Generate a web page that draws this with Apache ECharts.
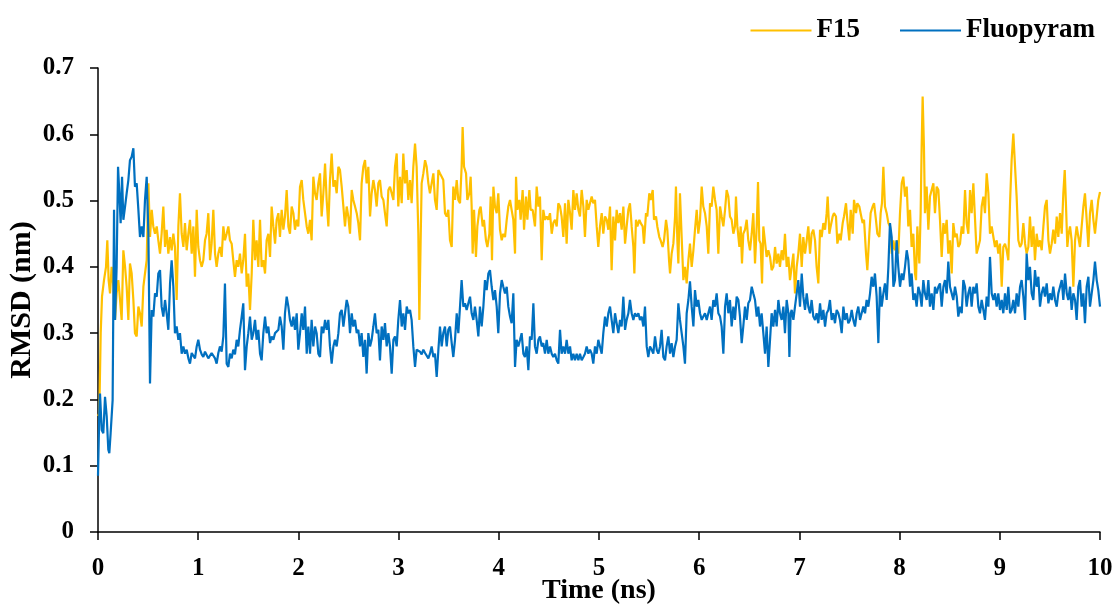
<!DOCTYPE html>
<html>
<head>
<meta charset="utf-8">
<script src="https://cdn.jsdelivr.net/npm/echarts@6/dist/echarts.min.js"></script>
<style>html,body{margin:0;padding:0;background:#fff}#chart{width:1116px;height:604px}</style>
</head>
<body>
<div id="chart"></div>
<script>
const seriesNames = ['F15', 'Fluopyram'];
const xTicks = { min: 0, max: 10, interval: 1 };
const yTicks = { min: 0, max: 0.7, interval: 0.1 };

const f15 = [[0,0.175],[0.013,0.179],[0.027,0.300],[0.040,0.355],[0.060,0.380],[0.080,0.400],[0.093,0.440],[0.106,0.380],[0.120,0.360],[0.136,0.400],[0.153,0.370],[0.170,0.320],[0.186,0.360],[0.203,0.380],[0.220,0.350],[0.236,0.320],[0.253,0.425],[0.270,0.400],[0.286,0.370],[0.303,0.320],[0.319,0.405],[0.336,0.390],[0.353,0.350],[0.369,0.300],[0.386,0.295],[0.403,0.340],[0.419,0.330],[0.436,0.310],[0.453,0.370],[0.469,0.390],[0.486,0.410],[0.503,0.526],[0.519,0.445],[0.536,0.486],[0.552,0.461],[0.569,0.450],[0.586,0.461],[0.602,0.440],[0.619,0.420],[0.635,0.450],[0.652,0.491],[0.669,0.430],[0.685,0.456],[0.702,0.420],[0.719,0.445],[0.735,0.425],[0.752,0.450],[0.768,0.430],[0.785,0.350],[0.802,0.461],[0.818,0.511],[0.835,0.450],[0.852,0.430],[0.868,0.466],[0.885,0.425],[0.902,0.450],[0.918,0.471],[0.935,0.420],[0.952,0.461],[0.968,0.385],[0.985,0.486],[1.001,0.430],[1.018,0.410],[1.035,0.400],[1.051,0.410],[1.068,0.440],[1.084,0.450],[1.101,0.481],[1.118,0.410],[1.134,0.435],[1.151,0.486],[1.168,0.420],[1.184,0.400],[1.201,0.420],[1.217,0.430],[1.234,0.415],[1.251,0.461],[1.267,0.440],[1.284,0.450],[1.301,0.461],[1.317,0.440],[1.334,0.435],[1.350,0.410],[1.367,0.385],[1.384,0.410],[1.400,0.400],[1.417,0.420],[1.434,0.390],[1.450,0.410],[1.467,0.450],[1.484,0.370],[1.500,0.390],[1.517,0.335],[1.534,0.390],[1.550,0.471],[1.567,0.410],[1.583,0.440],[1.600,0.400],
[1.617,0.471],[1.633,0.400],[1.650,0.410],[1.667,0.390],[1.683,0.440],[1.700,0.450],[1.717,0.415],[1.733,0.491],[1.750,0.461],[1.767,0.435],[1.783,0.471],[1.800,0.481],[1.816,0.445],[1.833,0.486],[1.850,0.456],[1.866,0.476],[1.883,0.516],[1.900,0.461],[1.916,0.450],[1.933,0.491],[1.950,0.481],[1.966,0.456],[1.983,0.471],[1.999,0.461],[2.016,0.521],[2.033,0.531],[2.049,0.501],[2.066,0.481],[2.083,0.461],[2.099,0.450],[2.116,0.471],[2.132,0.440],[2.149,0.536],[2.166,0.511],[2.182,0.501],[2.199,0.526],[2.216,0.541],[2.232,0.476],[2.249,0.511],[2.266,0.556],[2.282,0.501],[2.299,0.461],[2.315,0.531],[2.332,0.571],[2.349,0.521],[2.365,0.531],[2.382,0.511],[2.399,0.551],[2.415,0.546],[2.432,0.521],[2.449,0.491],[2.465,0.461],[2.482,0.491],[2.498,0.476],[2.515,0.450],[2.532,0.516],[2.548,0.501],[2.565,0.491],[2.582,0.481],[2.598,0.466],[2.615,0.440],[2.631,0.526],[2.648,0.551],[2.665,0.561],[2.681,0.526],[2.698,0.551],[2.715,0.476],[2.731,0.511],[2.748,0.531],[2.764,0.516],[2.781,0.491],[2.798,0.526],[2.814,0.531],[2.831,0.506],[2.848,0.501],[2.864,0.481],[2.881,0.461],[2.898,0.516],[2.914,0.521],[2.931,0.511],[2.948,0.501],[2.964,0.551],[2.981,0.571],[2.997,0.491],[3.014,0.536],[3.031,0.496],[3.047,0.571],[3.064,0.526],[3.081,0.546],[3.097,0.501],[3.114,0.531],[3.130,0.496],[3.147,0.551],[3.164,0.586],[3.180,0.551],[3.197,0.450],[3.207,0.320],[3.220,0.440],[3.230,0.526],[3.247,0.541],[3.264,0.561],[3.280,0.551],[3.297,0.526],
[3.313,0.511],[3.330,0.526],[3.347,0.541],[3.363,0.501],[3.380,0.486],[3.397,0.546],[3.413,0.541],[3.430,0.536],[3.446,0.531],[3.463,0.481],[3.480,0.476],[3.496,0.486],[3.513,0.440],[3.530,0.430],[3.546,0.521],[3.563,0.501],[3.580,0.531],[3.596,0.501],[3.613,0.496],[3.629,0.551],[3.639,0.611],[3.653,0.551],[3.673,0.541],[3.686,0.501],[3.706,0.511],[3.719,0.536],[3.729,0.491],[3.739,0.420],[3.753,0.486],[3.772,0.415],[3.786,0.461],[3.806,0.486],[3.819,0.491],[3.839,0.461],[3.852,0.471],[3.872,0.440],[3.886,0.430],[3.906,0.450],[3.919,0.506],[3.932,0.410],[3.946,0.521],[3.962,0.491],[3.979,0.481],[3.995,0.511],[4.012,0.456],[4.029,0.440],[4.045,0.450],[4.062,0.445],[4.079,0.471],[4.095,0.491],[4.112,0.501],[4.128,0.486],[4.145,0.471],[4.162,0.420],[4.172,0.536],[4.185,0.486],[4.205,0.501],[4.218,0.471],[4.238,0.516],[4.252,0.456],[4.271,0.506],[4.285,0.471],[4.305,0.516],[4.318,0.486],[4.338,0.486],[4.361,0.461],[4.378,0.521],[4.395,0.491],[4.411,0.506],[4.428,0.410],[4.444,0.486],[4.461,0.471],[4.478,0.476],[4.494,0.471],[4.511,0.481],[4.528,0.450],[4.544,0.466],[4.561,0.471],[4.578,0.461],[4.594,0.496],[4.611,0.491],[4.627,0.476],[4.644,0.445],[4.661,0.496],[4.677,0.435],[4.694,0.501],[4.711,0.481],[4.727,0.456],[4.744,0.516],[4.760,0.486],[4.777,0.511],[4.794,0.486],[4.810,0.476],[4.827,0.516],[4.844,0.491],[4.860,0.445],[4.877,0.501],[4.894,0.486],[4.910,0.496],[4.927,0.506],[4.943,0.496],[4.960,0.501],[4.977,0.461],[4.993,0.430],
[5.010,0.461],[5.027,0.481],[5.043,0.450],[5.060,0.476],[5.077,0.471],[5.093,0.456],[5.110,0.491],[5.126,0.395],[5.143,0.476],[5.160,0.440],[5.176,0.486],[5.193,0.466],[5.210,0.481],[5.226,0.456],[5.243,0.491],[5.260,0.435],[5.276,0.461],[5.293,0.486],[5.309,0.496],[5.326,0.461],[5.343,0.430],[5.353,0.390],[5.369,0.471],[5.383,0.461],[5.403,0.471],[5.416,0.466],[5.436,0.461],[5.449,0.435],[5.469,0.481],[5.482,0.476],[5.502,0.511],[5.516,0.501],[5.536,0.516],[5.549,0.471],[5.569,0.476],[5.582,0.461],[5.602,0.445],[5.615,0.440],[5.635,0.430],[5.649,0.440],[5.669,0.471],[5.682,0.456],[5.699,0.410],[5.709,0.390],[5.725,0.420],[5.742,0.435],[5.759,0.476],[5.768,0.521],[5.782,0.440],[5.792,0.405],[5.808,0.511],[5.825,0.445],[5.842,0.380],[5.858,0.400],[5.875,0.375],[5.892,0.410],[5.908,0.435],[5.925,0.400],[5.942,0.425],[5.958,0.456],[5.975,0.486],[5.991,0.450],[6.008,0.471],[6.025,0.521],[6.041,0.491],[6.058,0.481],[6.075,0.461],[6.091,0.420],[6.108,0.496],[6.124,0.491],[6.141,0.521],[6.158,0.501],[6.174,0.486],[6.191,0.420],[6.208,0.491],[6.224,0.476],[6.241,0.461],[6.258,0.486],[6.274,0.516],[6.291,0.506],[6.307,0.476],[6.324,0.471],[6.341,0.450],[6.357,0.461],[6.367,0.506],[6.381,0.461],[6.401,0.430],[6.414,0.461],[6.427,0.405],[6.440,0.450],[6.457,0.456],[6.474,0.471],[6.490,0.440],[6.507,0.425],[6.524,0.450],[6.540,0.481],[6.557,0.405],[6.574,0.461],[6.587,0.528],[6.600,0.440],[6.613,0.435],[6.627,0.375],[6.640,0.461],[6.657,0.461],[6.673,0.415],[6.690,0.425],
[6.707,0.415],[6.723,0.395],[6.740,0.400],[6.757,0.430],[6.773,0.405],[6.790,0.420],[6.806,0.400],[6.823,0.425],[6.840,0.410],[6.856,0.450],[6.873,0.400],[6.890,0.415],[6.906,0.380],[6.923,0.400],[6.940,0.420],[6.956,0.360],[6.973,0.400],[6.989,0.420],[7.006,0.450],[7.023,0.400],[7.039,0.445],[7.056,0.420],[7.073,0.440],[7.089,0.461],[7.106,0.420],[7.122,0.450],[7.139,0.456],[7.156,0.440],[7.172,0.400],[7.189,0.375],[7.206,0.456],[7.222,0.445],[7.239,0.466],[7.256,0.456],[7.272,0.481],[7.282,0.506],[7.299,0.450],[7.312,0.461],[7.332,0.476],[7.345,0.481],[7.365,0.476],[7.379,0.435],[7.399,0.450],[7.412,0.440],[7.432,0.466],[7.445,0.476],[7.465,0.496],[7.478,0.471],[7.498,0.440],[7.512,0.486],[7.532,0.450],[7.545,0.501],[7.565,0.481],[7.578,0.496],[7.598,0.491],[7.611,0.481],[7.631,0.466],[7.645,0.471],[7.665,0.420],[7.678,0.395],[7.698,0.450],[7.711,0.481],[7.731,0.491],[7.745,0.496],[7.764,0.471],[7.778,0.450],[7.798,0.445],[7.811,0.481],[7.824,0.496],[7.838,0.551],[7.854,0.491],[7.871,0.481],[7.888,0.466],[7.904,0.461],[7.921,0.420],[7.938,0.440],[7.954,0.425],[7.971,0.440],[7.987,0.420],[8.004,0.481],[8.021,0.526],[8.037,0.536],[8.054,0.506],[8.071,0.521],[8.087,0.461],[8.104,0.486],[8.120,0.430],[8.137,0.450],[8.154,0.390],[8.164,0.380],[8.177,0.461],[8.197,0.405],[8.210,0.481],[8.220,0.581],[8.230,0.657],[8.243,0.581],[8.253,0.481],[8.270,0.521],[8.287,0.456],[8.303,0.506],[8.320,0.516],[8.337,0.526],[8.353,0.481],[8.370,0.521],[8.387,0.516],
[8.403,0.471],[8.420,0.415],[8.437,0.466],[8.453,0.450],[8.470,0.471],[8.486,0.420],[8.503,0.440],[8.520,0.390],[8.536,0.466],[8.553,0.445],[8.570,0.450],[8.586,0.430],[8.603,0.435],[8.620,0.461],[8.636,0.450],[8.653,0.516],[8.669,0.466],[8.686,0.450],[8.703,0.516],[8.719,0.481],[8.736,0.526],[8.753,0.471],[8.769,0.420],[8.786,0.430],[8.802,0.440],[8.819,0.491],[8.836,0.506],[8.852,0.481],[8.869,0.541],[8.886,0.511],[8.902,0.450],[8.919,0.461],[8.936,0.445],[8.952,0.430],[8.969,0.440],[8.985,0.420],[9.002,0.435],[9.019,0.370],[9.035,0.430],[9.052,0.435],[9.069,0.425],[9.085,0.410],[9.102,0.496],[9.118,0.561],[9.135,0.601],[9.152,0.601],[9.168,0.506],[9.185,0.440],[9.202,0.430],[9.218,0.435],[9.235,0.466],[9.252,0.435],[9.268,0.420],[9.285,0.430],[9.301,0.476],[9.318,0.430],[9.335,0.461],[9.351,0.410],[9.368,0.450],[9.385,0.430],[9.401,0.440],[9.418,0.425],[9.435,0.461],[9.451,0.491],[9.468,0.501],[9.485,0.440],[9.501,0.420],[9.518,0.435],[9.534,0.456],[9.551,0.435],[9.568,0.476],[9.584,0.445],[9.601,0.481],[9.618,0.450],[9.634,0.511],[9.648,0.546],[9.661,0.491],[9.674,0.430],[9.687,0.450],[9.701,0.461],[9.717,0.440],[9.734,0.370],[9.751,0.440],[9.767,0.461],[9.784,0.445],[9.800,0.430],[9.817,0.461],[9.834,0.491],[9.850,0.511],[9.867,0.471],[9.884,0.430],[9.900,0.481],[9.917,0.501],[9.934,0.471],[9.950,0.450],[9.967,0.476],[9.983,0.501],[10.000,0.513]];

const fluopyram = [[0,0.085],[0.013,0.179],[0.020,0.209],[0.037,0.154],[0.053,0.149],[0.070,0.204],[0.087,0.174],[0.103,0.124],[0.113,0.119],[0.126,0.149],[0.146,0.199],[0.160,0.486],[0.170,0.320],[0.186,0.400],[0.200,0.551],[0.213,0.511],[0.226,0.466],[0.240,0.536],[0.253,0.471],[0.270,0.491],[0.286,0.511],[0.303,0.531],[0.319,0.561],[0.336,0.566],[0.353,0.579],[0.369,0.521],[0.386,0.526],[0.403,0.486],[0.419,0.445],[0.436,0.461],[0.453,0.445],[0.469,0.501],[0.486,0.536],[0.503,0.450],[0.519,0.224],[0.536,0.335],[0.552,0.325],[0.569,0.360],[0.586,0.355],[0.602,0.390],[0.619,0.395],[0.635,0.340],[0.652,0.325],[0.669,0.350],[0.685,0.330],[0.702,0.305],[0.719,0.375],[0.735,0.410],[0.752,0.370],[0.768,0.300],[0.785,0.310],[0.802,0.290],[0.818,0.300],[0.835,0.269],[0.852,0.280],[0.868,0.269],[0.885,0.275],[0.902,0.262],[0.918,0.254],[0.935,0.270],[0.952,0.269],[0.968,0.262],[0.985,0.280],[1.001,0.290],[1.018,0.275],[1.035,0.268],[1.051,0.264],[1.068,0.272],[1.084,0.269],[1.101,0.262],[1.118,0.264],[1.134,0.270],[1.151,0.267],[1.168,0.262],[1.184,0.254],[1.201,0.270],[1.217,0.280],[1.234,0.272],[1.251,0.295],[1.267,0.375],[1.284,0.254],[1.301,0.249],[1.317,0.269],[1.334,0.262],[1.350,0.275],[1.367,0.268],[1.384,0.290],[1.400,0.280],[1.417,0.305],[1.434,0.325],[1.450,0.345],[1.467,0.244],[1.484,0.280],[1.500,0.300],[1.517,0.325],[1.534,0.290],[1.550,0.300],[1.567,0.320],[1.583,0.290],[1.600,0.305],
[1.617,0.269],[1.633,0.259],[1.650,0.300],[1.667,0.325],[1.683,0.300],[1.700,0.310],[1.717,0.285],[1.733,0.295],[1.750,0.290],[1.767,0.300],[1.783,0.300],[1.800,0.305],[1.816,0.325],[1.833,0.310],[1.850,0.275],[1.866,0.330],[1.883,0.355],[1.900,0.340],[1.916,0.320],[1.933,0.310],[1.950,0.325],[1.966,0.305],[1.983,0.330],[1.999,0.275],[2.016,0.300],[2.033,0.330],[2.049,0.305],[2.066,0.340],[2.083,0.269],[2.099,0.310],[2.116,0.269],[2.132,0.320],[2.149,0.280],[2.166,0.310],[2.182,0.300],[2.199,0.269],[2.216,0.264],[2.232,0.310],[2.249,0.300],[2.266,0.320],[2.282,0.305],[2.299,0.320],[2.315,0.280],[2.332,0.254],[2.349,0.280],[2.365,0.290],[2.382,0.280],[2.399,0.300],[2.415,0.330],[2.432,0.335],[2.449,0.310],[2.465,0.330],[2.482,0.350],[2.498,0.340],[2.515,0.300],[2.532,0.330],[2.548,0.310],[2.565,0.320],[2.582,0.300],[2.598,0.305],[2.615,0.280],[2.631,0.300],[2.648,0.264],[2.665,0.290],[2.681,0.239],[2.698,0.300],[2.715,0.280],[2.731,0.290],[2.748,0.310],[2.764,0.330],[2.781,0.300],[2.798,0.305],[2.814,0.259],[2.831,0.310],[2.848,0.290],[2.864,0.315],[2.881,0.280],[2.898,0.300],[2.914,0.280],[2.931,0.239],[2.948,0.290],[2.964,0.295],[2.981,0.280],[2.997,0.320],[3.014,0.350],[3.031,0.310],[3.047,0.330],[3.064,0.305],[3.081,0.340],[3.097,0.330],[3.114,0.335],[3.130,0.320],[3.147,0.280],[3.164,0.249],[3.180,0.275],[3.197,0.277],[3.214,0.272],[3.230,0.268],[3.247,0.275],[3.264,0.270],[3.280,0.269],[3.297,0.262],
[3.313,0.269],[3.330,0.280],[3.347,0.264],[3.363,0.269],[3.380,0.234],[3.397,0.275],[3.413,0.310],[3.430,0.280],[3.446,0.300],[3.463,0.310],[3.480,0.280],[3.496,0.305],[3.513,0.310],[3.530,0.285],[3.546,0.264],[3.563,0.290],[3.580,0.330],[3.596,0.300],[3.613,0.340],[3.629,0.380],[3.646,0.340],[3.663,0.345],[3.679,0.335],[3.696,0.345],[3.713,0.355],[3.729,0.330],[3.746,0.320],[3.762,0.340],[3.779,0.320],[3.796,0.295],[3.812,0.340],[3.829,0.310],[3.846,0.340],[3.862,0.380],[3.879,0.365],[3.896,0.390],[3.912,0.395],[3.929,0.370],[3.946,0.350],[3.962,0.365],[3.979,0.340],[3.995,0.300],[4.012,0.360],[4.029,0.380],[4.045,0.370],[4.062,0.360],[4.079,0.370],[4.095,0.340],[4.112,0.325],[4.128,0.315],[4.145,0.360],[4.162,0.249],[4.178,0.290],[4.195,0.280],[4.212,0.290],[4.228,0.300],[4.245,0.269],[4.261,0.264],[4.278,0.280],[4.295,0.244],[4.311,0.295],[4.328,0.290],[4.345,0.345],[4.361,0.280],[4.378,0.269],[4.395,0.290],[4.411,0.295],[4.428,0.280],[4.444,0.285],[4.461,0.269],[4.478,0.290],[4.494,0.269],[4.511,0.280],[4.528,0.269],[4.544,0.264],[4.561,0.269],[4.578,0.259],[4.594,0.254],[4.611,0.305],[4.627,0.269],[4.644,0.280],[4.661,0.269],[4.677,0.290],[4.694,0.269],[4.711,0.280],[4.727,0.259],[4.744,0.269],[4.760,0.259],[4.777,0.269],[4.794,0.259],[4.810,0.269],[4.827,0.259],[4.844,0.264],[4.860,0.269],[4.877,0.280],[4.894,0.269],[4.910,0.275],[4.927,0.269],[4.943,0.254],[4.960,0.280],[4.977,0.269],[4.993,0.290],
[5.010,0.290],[5.027,0.269],[5.043,0.300],[5.060,0.325],[5.077,0.310],[5.093,0.330],[5.110,0.340],[5.126,0.320],[5.143,0.300],[5.160,0.330],[5.176,0.315],[5.193,0.300],[5.210,0.320],[5.226,0.310],[5.243,0.355],[5.260,0.305],[5.276,0.320],[5.293,0.330],[5.309,0.350],[5.326,0.330],[5.343,0.320],[5.359,0.330],[5.376,0.325],[5.393,0.330],[5.409,0.320],[5.426,0.325],[5.443,0.310],[5.459,0.340],[5.476,0.280],[5.492,0.264],[5.509,0.280],[5.526,0.275],[5.542,0.269],[5.559,0.295],[5.576,0.275],[5.592,0.269],[5.609,0.280],[5.625,0.305],[5.642,0.264],[5.659,0.259],[5.675,0.280],[5.692,0.295],[5.709,0.269],[5.725,0.285],[5.742,0.264],[5.759,0.280],[5.775,0.290],[5.792,0.345],[5.808,0.320],[5.825,0.300],[5.842,0.280],[5.858,0.254],[5.875,0.330],[5.892,0.350],[5.908,0.378],[5.925,0.340],[5.942,0.310],[5.958,0.365],[5.975,0.340],[5.991,0.350],[6.008,0.330],[6.025,0.320],[6.041,0.325],[6.058,0.330],[6.075,0.320],[6.091,0.330],[6.108,0.340],[6.124,0.320],[6.141,0.350],[6.158,0.340],[6.174,0.360],[6.191,0.330],[6.208,0.325],[6.224,0.310],[6.241,0.269],[6.258,0.340],[6.274,0.360],[6.291,0.330],[6.307,0.350],[6.324,0.310],[6.341,0.340],[6.357,0.320],[6.374,0.355],[6.391,0.350],[6.407,0.325],[6.424,0.285],[6.440,0.310],[6.457,0.340],[6.474,0.320],[6.490,0.345],[6.507,0.350],[6.524,0.370],[6.540,0.360],[6.557,0.350],[6.574,0.325],[6.590,0.340],[6.607,0.310],[6.623,0.330],[6.640,0.300],[6.657,0.269],[6.673,0.310],[6.690,0.249],
[6.707,0.290],[6.723,0.330],[6.740,0.310],[6.757,0.335],[6.773,0.310],[6.790,0.350],[6.806,0.330],[6.823,0.320],[6.840,0.340],[6.856,0.300],[6.873,0.350],[6.890,0.330],[6.900,0.264],[6.913,0.330],[6.923,0.335],[6.940,0.320],[6.956,0.340],[6.973,0.360],[6.989,0.380],[7.006,0.340],[7.023,0.390],[7.039,0.355],[7.056,0.335],[7.073,0.360],[7.089,0.340],[7.106,0.330],[7.122,0.350],[7.139,0.325],[7.156,0.320],[7.172,0.330],[7.189,0.315],[7.206,0.345],[7.222,0.320],[7.239,0.335],[7.256,0.310],[7.272,0.330],[7.289,0.335],[7.305,0.350],[7.322,0.320],[7.339,0.330],[7.355,0.315],[7.372,0.335],[7.389,0.330],[7.405,0.320],[7.422,0.300],[7.439,0.340],[7.455,0.320],[7.472,0.330],[7.488,0.315],[7.505,0.320],[7.522,0.335],[7.538,0.320],[7.555,0.310],[7.572,0.330],[7.588,0.340],[7.605,0.320],[7.621,0.330],[7.638,0.340],[7.655,0.330],[7.671,0.350],[7.688,0.340],[7.705,0.360],[7.721,0.385],[7.738,0.370],[7.754,0.390],[7.771,0.355],[7.788,0.285],[7.804,0.370],[7.821,0.340],[7.838,0.360],[7.854,0.375],[7.871,0.350],[7.888,0.400],[7.904,0.466],[7.921,0.445],[7.938,0.370],[7.954,0.380],[7.971,0.440],[7.987,0.400],[8.004,0.370],[8.021,0.390],[8.037,0.380],[8.054,0.400],[8.071,0.425],[8.087,0.410],[8.104,0.370],[8.120,0.390],[8.137,0.350],[8.154,0.360],[8.170,0.340],[8.187,0.370],[8.204,0.360],[8.220,0.340],[8.237,0.380],[8.253,0.360],[8.270,0.350],[8.287,0.380],[8.303,0.340],[8.320,0.360],[8.337,0.335],[8.353,0.370],[8.370,0.360],[8.387,0.370],
[8.403,0.375],[8.420,0.340],[8.437,0.370],[8.453,0.380],[8.470,0.360],[8.486,0.408],[8.503,0.370],[8.520,0.360],[8.536,0.350],[8.553,0.370],[8.570,0.355],[8.586,0.325],[8.603,0.340],[8.620,0.330],[8.636,0.380],[8.653,0.370],[8.669,0.340],[8.686,0.360],[8.703,0.370],[8.719,0.340],[8.736,0.370],[8.753,0.360],[8.769,0.375],[8.786,0.340],[8.802,0.330],[8.819,0.350],[8.836,0.335],[8.852,0.320],[8.869,0.355],[8.886,0.340],[8.902,0.415],[8.919,0.360],[8.936,0.350],[8.952,0.360],[8.969,0.340],[8.985,0.360],[9.002,0.335],[9.019,0.350],[9.035,0.330],[9.052,0.360],[9.069,0.335],[9.085,0.370],[9.102,0.330],[9.118,0.335],[9.135,0.350],[9.152,0.330],[9.168,0.360],[9.185,0.340],[9.202,0.370],[9.218,0.380],[9.235,0.355],[9.252,0.320],[9.268,0.420],[9.285,0.380],[9.301,0.400],[9.318,0.360],[9.335,0.350],[9.351,0.395],[9.368,0.370],[9.385,0.385],[9.401,0.340],[9.418,0.360],[9.435,0.370],[9.451,0.355],[9.468,0.375],[9.485,0.345],[9.501,0.360],[9.518,0.350],[9.534,0.370],[9.551,0.350],[9.568,0.340],[9.584,0.360],[9.601,0.370],[9.618,0.380],[9.634,0.350],[9.651,0.390],[9.668,0.360],[9.684,0.350],[9.701,0.370],[9.717,0.335],[9.734,0.360],[9.751,0.350],[9.767,0.320],[9.784,0.370],[9.800,0.380],[9.817,0.340],[9.834,0.360],[9.850,0.315],[9.867,0.370],[9.884,0.385],[9.900,0.340],[9.917,0.360],[9.934,0.380],[9.950,0.408],[9.967,0.380],[9.983,0.365],[10.000,0.340]];

const FONT = '"Liberation Serif", "Times New Roman", serif';
const colors = ['#FFC000', '#0070C0'];

const chart = echarts.init(document.getElementById('chart'), null, { renderer: 'canvas' });
chart.setOption({
  animation: false,
  backgroundColor: '#ffffff',
  color: colors,
  legend: {
    data: seriesNames.map(n => ({ name: n, icon: 'rect' })),
    right: 16,
    top: 12,
    itemWidth: 61,
    itemHeight: 2,
    itemGap: 40,
    textStyle: { fontFamily: FONT, fontWeight: 'bold', fontSize: 27, color: '#000' }
  },
  grid: { left: 98, right: 16, top: 68, bottom: 72, containLabel: false, outerBoundsMode: 'none' },
  xAxis: {
    type: 'value',
    min: xTicks.min, max: xTicks.max, interval: xTicks.interval,
    name: 'Time (ns)',
    nameLocation: 'middle',
    nameGap: 45,
    nameMoveOverlap: false,
    nameTextStyle: { fontFamily: FONT, fontWeight: 'bold', fontSize: 28, color: '#000' },
    axisLine: { show: true, onZero: false, lineStyle: { color: '#000', width: 1.5 } },
    axisTick: { show: true, length: 8, lineStyle: { color: '#000', width: 1.5 } },
    axisLabel: { margin: 24, fontFamily: FONT, fontWeight: 'bold', fontSize: 25, color: '#000' },
    splitLine: { show: false }
  },
  yAxis: {
    type: 'value',
    min: yTicks.min, max: yTicks.max, interval: yTicks.interval,
    name: 'RMSD (nm)',
    nameLocation: 'middle',
    nameGap: 61,
    nameMoveOverlap: false,
    nameTextStyle: { fontFamily: FONT, fontWeight: 'bold', fontSize: 30, color: '#000' },
    axisLine: { show: true, lineStyle: { color: '#000', width: 1.5 } },
    axisTick: { show: true, length: 8, lineStyle: { color: '#000', width: 1.5 } },
    axisLabel: { margin: 24, fontFamily: FONT, fontWeight: 'bold', fontSize: 25, color: '#000' },
    splitLine: { show: false }
  },
  series: [
    { name: seriesNames[0], type: 'line', data: f15, showSymbol: false, symbol: 'none',
      lineStyle: { color: colors[0], width: 2.2 }, itemStyle: { color: colors[0] }, z: 2 },
    { name: seriesNames[1], type: 'line', data: fluopyram, showSymbol: false, symbol: 'none',
      lineStyle: { color: colors[1], width: 2.2 }, itemStyle: { color: colors[1] }, z: 3 }
  ]
});
</script>
</body>
</html>
